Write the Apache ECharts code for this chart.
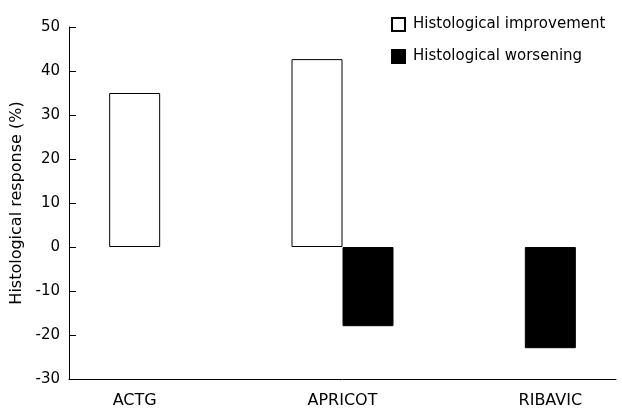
<!DOCTYPE html>
<html>
<head>
<meta charset="utf-8">
<script src="https://cdn.jsdelivr.net/npm/echarts@6/dist/echarts.min.js"></script>
<style>html,body{margin:0;padding:0;background:#fff;}#c{width:622px;height:410px;}</style>
</head>
<body>
<div id="c"></div>
<script>
var categories = ['ACTG', 'APRICOT', 'RIBAVIC'];
var improvement = [35, 42.7, null];
var worsening = [null, -18, -23];
var yTicks = { min: -30, max: 50, interval: 10 };
var seriesNames = ['Histological improvement', 'Histological worsening'];
var yTitle = 'Histological response (%)';

var FONT = 'DejaVu Sans';
var chart = echarts.init(document.getElementById('c'), null, { renderer: 'canvas' });
chart.setOption({
  animation: false,
  backgroundColor: '#fff',
  textStyle: { fontFamily: FONT },
  grid: { left: 69, right: 6, top: 27, bottom: 31, containLabel: false },
  legend: {
    orient: 'vertical', left: 386, top: 12,
    itemWidth: 13, itemHeight: 13, itemGap: 17,
    icon: 'rect',
    textStyle: { fontFamily: FONT, fontSize: 15, color: '#000', padding: [0, 0, 0, 3] },
    data: seriesNames
  },
  xAxis: {
    type: 'category', data: categories,
    axisLine: { show: true, onZero: false, lineStyle: { color: '#000', width: 1 } },
    axisTick: { show: false },
    axisLabel: {
      margin: 14, fontSize: 16, color: '#000', fontFamily: FONT,
      formatter: function (v) {
        if (v === 'ACTG') return '{l|' + v + '}';
        if (v === 'RIBAVIC') return '{r|' + v + '}';
        return '{m|' + v + '}';
      },
      rich: {
        l: { fontSize: 16, fontFamily: FONT, color: '#000', padding: [0, 51, 0, 0] },
        m: { fontSize: 16, fontFamily: FONT, color: '#000' },
        r: { fontSize: 16, fontFamily: FONT, color: '#000', padding: [0, 0, 0, 51] }
      }
    },
    splitLine: { show: false }
  },
  yAxis: {
    type: 'value', min: yTicks.min, max: yTicks.max, interval: yTicks.interval,
    name: yTitle, nameLocation: 'middle', nameGap: 44, nameRotate: 90,
    nameTextStyle: { fontSize: 16, color: '#000', fontFamily: FONT },
    axisLine: { show: true, lineStyle: { color: '#000', width: 1 } },
    axisTick: { show: true, inside: true, length: 7, lineStyle: { color: '#000' } },
    axisLabel: { margin: 9, fontSize: 15, color: '#000', fontFamily: FONT },
    splitLine: { show: false }
  },
  series: [
    {
      name: seriesNames[0], type: 'bar', data: improvement,
      barWidth: 51, barGap: '0%',
      itemStyle: { color: '#fff', borderColor: '#000', borderWidth: 1 }
    },
    {
      name: seriesNames[1], type: 'bar', data: worsening,
      barWidth: 51, barGap: '0%',
      itemStyle: { color: '#000', borderColor: '#000', borderWidth: 1 }
    }
  ]
});
</script>
</body>
</html>
